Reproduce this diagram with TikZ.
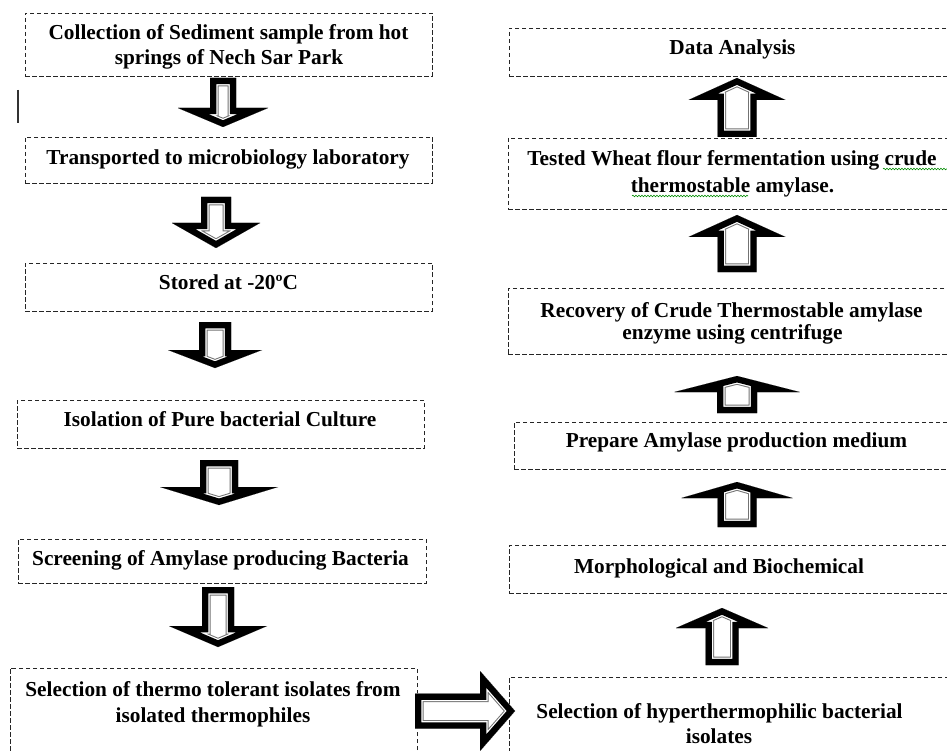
\documentclass[tikz,border=0pt]{standalone}
\usepackage{fontspec}
\setmainfont{Liberation Serif}
\usetikzlibrary{decorations.pathmorphing}
\tikzset{
  flowbox/.style={draw=black!85, line width=0.9pt, dash pattern=on 4.5pt off 2.5pt, inner sep=0pt},
  txt/.style={font=\bfseries\fontsize{21.3}{25}\selectfont, inner sep=0pt, text=black, anchor=base},
  squig/.style={draw=green!55!black, line width=0.6pt, decorate, decoration={snake, amplitude=0.8pt, segment length=3pt}}
}
\newcommand{\blockarrow}[1]{%
  \fill[black] #1;
  \begin{scope}
    \clip #1;
    \fill[white] #1;
    \draw[black!55, line width=17pt, line join=miter] #1;
    \draw[white, line width=15pt, line join=miter] #1;
    \draw[black, line width=12.5pt, line join=miter] #1;
  \end{scope}}
% vertical block arrow: cx, shaft end y, head base y, tip y, shaft half width, head half width
\newcommand{\varr}[6]{\blockarrow{(#1-#5,#2) -- (#1-#5,#3) -- (#1-#6,#3) -- (#1,#4) -- (#1+#6,#3) -- (#1+#5,#3) -- (#1+#5,#2) -- cycle}}
% horizontal block arrow: cy, shaft end x, head base x, tip x, shaft half width, head half width
\newcommand{\harr}[6]{\blockarrow{(#2,#1-#5) -- (#3,#1-#5) -- (#3,#1-#6) -- (#4,#1) -- (#3,#1+#6) -- (#3,#1+#5) -- (#2,#1+#5) -- cycle}}
\begin{document}
\begin{tikzpicture}[x=1pt, y=-1pt]
\useasboundingbox (0,0) rectangle (947,751);
\fill[white] (0,0) rectangle (947,751);
\clip (0,0) rectangle (947,751);

% left column boxes
\node[flowbox, minimum width=407pt, minimum height=63pt] (b1) at (228.5,44.5) {};
\node[flowbox, minimum width=407pt, minimum height=46pt] (b2) at (228.5,160) {};
\node[flowbox, minimum width=407pt, minimum height=48pt] (b3) at (228.5,287) {};
\node[flowbox, minimum width=407pt, minimum height=48pt] (b4) at (220.5,424) {};
\node[flowbox, minimum width=408pt, minimum height=44pt] (b5) at (222,561) {};
\node[flowbox, minimum width=407pt, minimum height=102pt] (b6) at (213.5,719) {};

% right column boxes
\node[flowbox, minimum width=443pt, minimum height=48pt] (r1) at (730.5,52) {};
\node[flowbox, minimum width=444pt, minimum height=71pt] (r2) at (730,173.5) {};
\node[flowbox, minimum width=444pt, minimum height=66pt] (r3) at (730,321) {};
\node[flowbox, minimum width=438pt, minimum height=47pt] (r4) at (733,445.5) {};
\node[flowbox, minimum width=443pt, minimum height=48pt] (r5) at (730.5,569) {};
\node[flowbox, minimum width=443pt, minimum height=93pt] (r6) at (730.5,723.5) {};

% texts (left)
\node[txt] (t1a) at (228.5,40) {Collection of Sediment sample from hot};
\node[txt] (t1b) at (229,65) {springs of Nech Sar Park};
\node[txt] (t2) at (228,165) {Transported to microbiology laboratory};
\node[txt] (t3) at (228.5,289) {Stored at -20ºC};
\node[txt] (t4) at (220,426) {Isolation of Pure bacterial Culture};
\node[txt] (t5) at (220.5,565) {Screening of Amylase producing Bacteria};
\node[txt] (t6a) at (213,696) {Selection of thermo tolerant isolates from};
\node[txt] (t6b) at (213,722) {isolated thermophiles};

% texts (right)
\node[txt] (s1) at (732.5,55) {Data Analysis};
\node[txt] (s2a) at (732,166) {Tested Wheat flour fermentation using crude};
\node[txt] (s2b) at (732.5,193) {thermostable amylase.};
\node[txt] (s3a) at (731.5,317) {Recovery of Crude Thermostable amylase};
\node[txt] (s3b) at (732.5,339) {enzyme using centrifuge};
\node[txt] (s4) at (736.5,447) {Prepare Amylase production medium};
\node[txt] (s5) at (719,573) {Morphological and Biochemical};
\node[txt] (s6a) at (719.5,718) {Selection of hyperthermophilic bacterial};
\node[txt] (s6b) at (719,743) {isolates};

% spell-check squiggles
\coordinate (q1a) at (883,169);
\coordinate (q1b) at (947,169);
\coordinate (q2a) at (632,196);
\coordinate (q2b) at (748,196);
\path[squig] (q1a) -- (q1b);
\path[squig] (q2a) -- (q2b);

% stray mark
\coordinate (m1) at (18,90);
\coordinate (m2) at (18,123);
\draw[black!80, line width=1.2pt] (m1) -- (m2);

% down arrows (left column)
\varr{223}{78}{108}{127}{13}{45}
\varr{216}{197}{223}{248}{15}{44}
\varr{215}{322}{350}{368}{16}{47}
\varr{219}{460}{487}{505}{19}{59}
\varr{218}{587}{626}{647}{16}{49}

% horizontal arrow
\harr{711}{415}{480}{515}{17.5}{40}

% up arrows (right column)
\varr{737}{137}{100}{78}{19.5}{48.5}
\varr{737}{272}{237}{215}{19.5}{48.5}
\varr{737}{413}{392}{376}{20}{62.5}
\varr{737}{527}{498}{482}{19.5}{55.5}
\varr{722}{665}{628}{608}{16.5}{46}
\end{tikzpicture}
\end{document}
